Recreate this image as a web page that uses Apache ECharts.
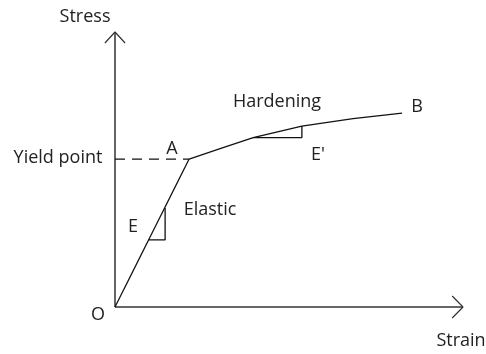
<!DOCTYPE html>
<html>
<head>
<meta charset="utf-8">
<script src="https://cdn.jsdelivr.net/npm/echarts@6/dist/echarts.min.js"></script>
<style>
  html, body { margin: 0; padding: 0; background: #fff; }
  #main { width: 486px; height: 354px; }
</style>
</head>
<body>
<div id="main"></div>
<script>
// Stress-strain sketch: elastic line O-A, then a hardening curve A-B.
// Units are arbitrary (0..10 on both axes); the grid runs a bit past them so arrows are not clipped.
const strainAxis = [[0, 0], [10, 0]];
const stressAxis = [[0, 0], [0, 10]];
const xArrow = [[9.69, 0.4], [10, 0], [9.69, -0.4]];
const yArrow = [[-0.29, 9.6], [0, 10], [0.29, 9.6]];

const elastic = [[0, 0], [2.13, 5.38]];
const hardening = [[2.13, 5.38], [3.02, 5.76], [3.97, 6.16], [5.37, 6.58], [6.84, 6.85], [8.25, 7.05]];
const yieldLine = [[0, 5.38], [2.13, 5.38]];
const slopeE = [[0.95, 2.44], [1.44, 2.44], [1.44, 3.6]];
const slopeE2 = [[3.97, 6.16], [5.37, 6.16], [5.37, 6.58]];

const labels = [
  { text: "Stress", x: 85, y: 17 },
  { text: "Strain", x: 461, y: 341 },
  { text: "Yield point", x: 58, y: 158 },
  { text: "A", x: 172, y: 149 },
  { text: "E", x: 133, y: 227 },
  { text: "Elastic", x: 210, y: 210 },
  { text: "Hardening", x: 277, y: 102 },
  { text: "B", x: 417, y: 107 },
  { text: "E'", x: 318, y: 155 },
  { text: "O", x: 98, y: 315 },
];

const line = (data, color, width, type) => ({
  type: "line", data, symbol: "none", silent: true, clip: false,
  lineStyle: { color, width, type: type || "solid" },
});

const chart = echarts.init(document.getElementById("main"), null, { renderer: "canvas" });
chart.setOption({
  animation: false,
  // 34.8 px per strain unit, 27.5 px per stress unit; origin at (115, 307)
  grid: { left: 80.2, right: 5.6, top: 18.25, bottom: 19.5 },
  xAxis: { type: "value", min: -1, max: 10.5, show: false },
  yAxis: { type: "value", min: -1, max: 10.5, show: false },
  series: [
    line(strainAxis, "#333", 1.5),
    line(stressAxis, "#333", 1.5),
    line(xArrow, "#333", 1.2),
    line(yArrow, "#333", 1.2),
    line(elastic, "#111", 1.3),
    line(hardening, "#111", 1.3),
    line(yieldLine, "#111", 1.3, [10, 7]),
    line(slopeE, "#111", 1.3),
    line(slopeE2, "#111", 1.3),
  ],
  graphic: labels.map((l) => ({
    type: "text", x: l.x, y: l.y,
    style: { text: l.text, fill: "#222", font: '18px "Open Sans"', textAlign: "center", textVerticalAlign: "middle" },
  })),
});
</script>
</body>
</html>
